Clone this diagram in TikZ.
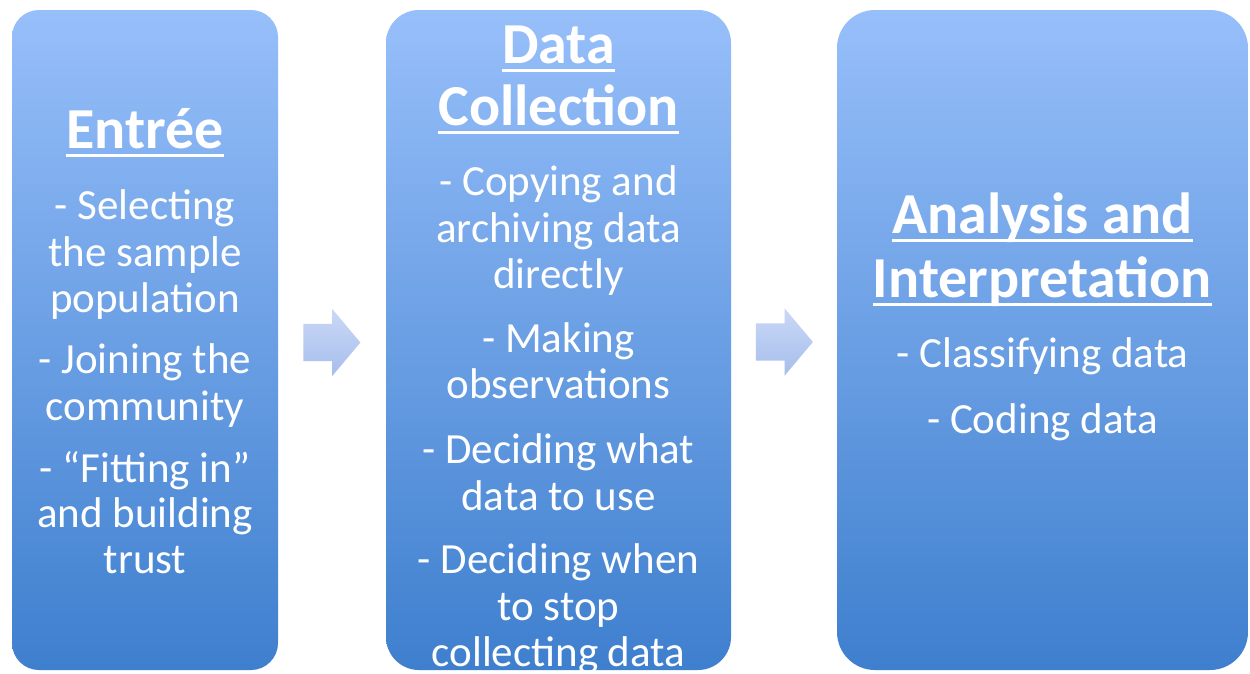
\documentclass[tikz,border=0pt]{standalone}
\usepackage{fontspec}
\setmainfont{Carlito}
\usetikzlibrary{shapes.arrows,calc}

\definecolor{stagetop}{RGB}{151,191,250}
\definecolor{stagebot}{RGB}{62,127,206}
\definecolor{flowtop}{RGB}{202,216,246}
\definecolor{flowbot}{RGB}{166,190,236}

% underlined heading: a thick rule laid under the text
\newsavebox\headbox
\newcommand\headline[1]{\sbox\headbox{#1}\rlap{\rule[-9pt]{\wd\headbox}{3.5pt}}\usebox\headbox}

\begin{document}
\begin{tikzpicture}[x=1pt,y=-1pt,
  stage/.style={rectangle, rounded corners=#1, top color=stagetop, bottom color=stagebot,
    draw=none, inner sep=0pt},
  flow/.style={single arrow, draw=none, top color=flowtop, bottom color=flowbot,
    minimum height=57pt, inner xsep=0pt, inner ysep=18.5pt,
    single arrow head extend=15pt, single arrow tip angle=100},
  head/.style={text=white, font=\fontsize{58}{62}\selectfont\bfseries, inner sep=0pt, anchor=base},
  item/.style={text=white, font=\fontsize{43}{46}\selectfont, inner sep=0pt, anchor=base},
]
\useasboundingbox (0,0) rectangle (1250,673);
\fill[white] (0,0) rectangle (1250,673);

% the three stages
\node[stage=27pt, minimum width=266pt, minimum height=660pt] (entree)  at (145,340)   {};
\node[stage=33pt, minimum width=345pt, minimum height=660pt] (collect) at (558.5,340) {};
\node[stage=38pt, minimum width=411pt, minimum height=660pt] (analyse) at (1042.5,340) {};

% block arrows between the stages
\node[flow, xshift=-8pt, yshift=-2.5pt] (flowA) at ($(entree.east)!0.5!(collect.west)$) {};
\node[flow, xshift=-7.5pt, yshift=-2pt] (flowB) at ($(collect.east)!0.5!(analyse.west)$) {};

% stage 1
\node[head] (entree-h) at (145,148) {\headline{Entrée}};
\foreach \yy/\txt [count=\i] in {219/- Selecting, 266/the sample, 312/population,
    373/- Joining the, 420/community,
    482/- “Fitting in”, 527/and building, 573/trust}
  \node[item] (entree-\i) at (145,\yy) {\txt};

% stage 2
\node[head] (collect-h1) at (558.5,63)  {\headline{Data}};
\node[head] (collect-h2) at (558.5,125) {\headline{Collection}};
\foreach \yy/\txt [count=\i] in {195/- Copying and, 242/archiving data, 288/directly,
    352/- Making, 398/observations,
    463/- Deciding what, 510/data to use,
    573/- Deciding when, 620/to stop, 666/collecting data}
  \node[item] (collect-\i) at (558.5,\yy) {\txt};

% stage 3
\node[head] (analyse-h1) at (1042.5,233) {\headline{Analysis and}};
\node[head] (analyse-h2) at (1042.5,297) {\headline{Interpretation}};
\foreach \yy/\txt [count=\i] in {367/- Classifying data, 433/- Coding data}
  \node[item] (analyse-\i) at (1042.5,\yy) {\txt};
\end{tikzpicture}
\end{document}
